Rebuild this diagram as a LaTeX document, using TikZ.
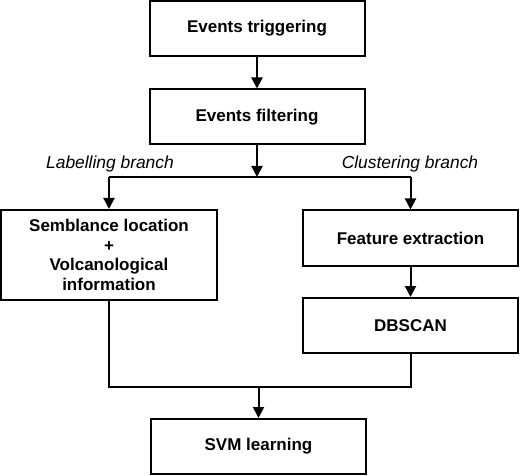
\documentclass[tikz,border=0pt]{standalone}
\usepackage{fontspec}
\setmainfont{Liberation Sans}
\usetikzlibrary{arrows.meta}
\begin{document}
\begin{tikzpicture}[x=1pt,y=-1pt,
  box/.style={draw,line width=2pt,minimum width=215pt,minimum height=55pt,inner sep=0pt,align=center,font=\fontsize{17}{19.5}\selectfont\bfseries},
  lab/.style={font=\fontsize{17.4}{20}\selectfont\itshape,anchor=base},
  conn/.style={line width=2pt},
  arr/.style={line width=2pt,-{Triangle[length=11pt,width=11pt]}}]
\useasboundingbox (0,0) rectangle (520,476);
\node[box] (trig) at (257,28.5) {Events triggering};
\node[box] (filt) at (257,117) {Events filtering};
\node[box,minimum width=216pt,minimum height=90pt] (sem) at (109,255) {Semblance location\\+\\Volcanological\\information};
\node[box] (feat) at (410.5,238) {Feature extraction};
\node[box] (db) at (410.5,325.5) {DBSCAN};
\node[box] (svm) at (258.5,446.5) {SVM learning};
\coordinate (split) at (257,177);
\coordinate (splitL) at (109,177);
\coordinate (splitR) at (410.5,177);
\coordinate (mergeL) at (109,387);
\coordinate (mergeR) at (410.5,387);
\coordinate (merge) at (258.5,387);
\node[lab] (labL) at (110,169) {Labelling branch};
\node[lab] (labR) at (410,169) {Clustering branch};
\draw[arr] (trig) -- (filt);
\draw[arr] (filt) -- (split);
\draw[conn] (splitL) -- (splitR);
\draw[arr] (splitL) -- (sem);
\draw[arr] (splitR) -- (feat);
\draw[arr] (feat) -- (db);
\draw[conn] (sem.south) -- (mergeL) -- (mergeR) -- (db.south);
\draw[arr] (merge) -- (svm);
\end{tikzpicture}
\end{document}
